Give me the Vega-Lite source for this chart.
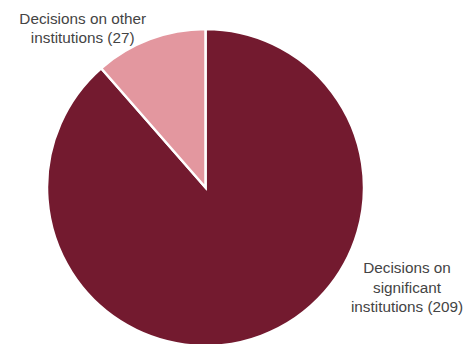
{
  "$schema": "https://vega.github.io/schema/vega-lite/v6.json",
  "autosize": {"type": "none"},
  "width": 411,
  "height": 313,
  "padding": {"left": 0, "top": 31, "right": 56, "bottom": 0},
  "background": "white",
  "config": {"view": {"stroke": null}},
  "data": {
    "values": [
      {"category": "Decisions on significant institutions", "count": 209, "order": 1, "label": "Decisions on\nsignificant\ninstitutions (209)"},
      {"category": "Decisions on other institutions", "count": 27, "order": 2, "label": "Decisions on other\ninstitutions (27)"}
    ]
  },
  "encoding": {
    "theta": {"field": "count", "type": "quantitative", "stack": true},
    "order": {"field": "order", "type": "quantitative"}
  },
  "layer": [
    {
      "mark": {"type": "arc", "outerRadius": 158.5, "stroke": "white", "strokeWidth": 2.5},
      "encoding": {
        "color": {
          "field": "category",
          "type": "nominal",
          "scale": {"domain": ["Decisions on significant institutions", "Decisions on other institutions"], "range": ["#731a2f", "#e3979f"]},
          "legend": null
        }
      }
    },
    {
      "mark": {"type": "text", "radius": 170, "dx": -63, "dy": -9.5, "align": "center", "baseline": "middle", "lineBreak": "\n", "font": "Liberation Sans", "fontSize": 15.3, "lineHeight": 19.5, "fill": "#444444"},
      "encoding": {"text": {"condition": {"test": "datum.order == 2", "field": "label"}, "value": ""}}
    },
    {
      "mark": {"type": "text", "radius": 165, "dx": 143.5, "dy": -73.5, "align": "center", "baseline": "middle", "lineBreak": "\n", "font": "Liberation Sans", "fontSize": 15.3, "lineHeight": 19.5, "fill": "#444444"},
      "encoding": {"text": {"condition": {"test": "datum.order == 1", "field": "label"}, "value": ""}}
    }
  ]
}
